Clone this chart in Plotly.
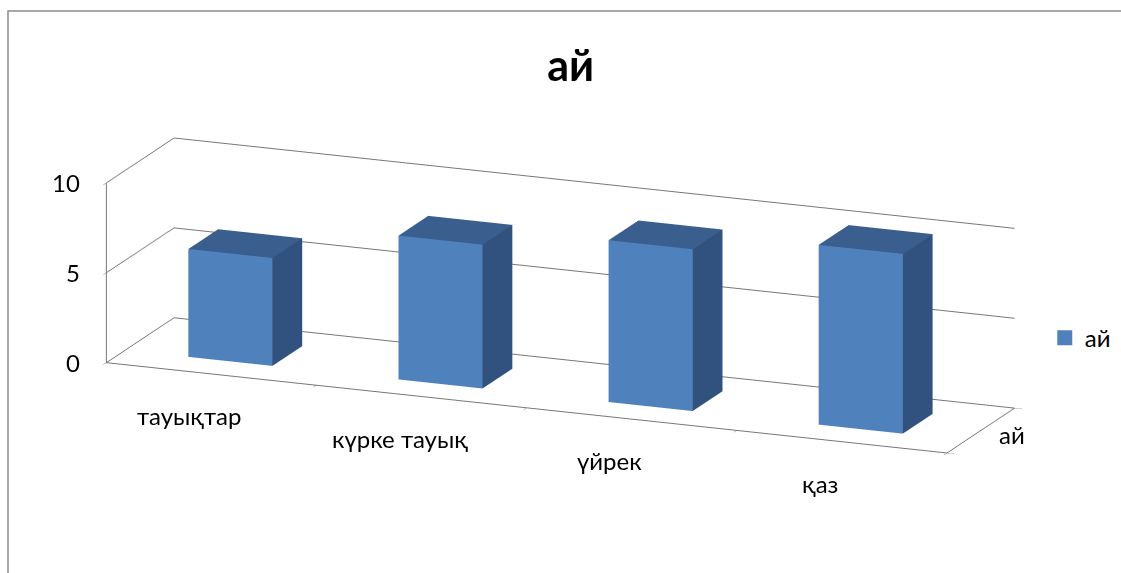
import plotly.graph_objects as go

# ---- data ----
categories = ["тауықтар", "күрке тауық", "үйрек", "қаз"]
values = [6, 8, 9, 10]
series_name = "ай"
value_ticks = [0, 5, 10]
title_text = "ай"

# ---- style ----
FRONT = "#4F81BD"
SIDE = "#31527E"
TOP = "#3A5F8F"
GRID = "#777777"
FONT = "Lato"
FS = 24
bar_half = 0.2
depth_half = 0.22

n = len(categories)
x_lo, x_hi = -0.5, n - 0.5
y_lo, y_hi = -0.5, 0.5

fig = go.Figure()

for idx, v in enumerate(values):
    x0, x1 = idx - bar_half, idx + bar_half
    y0, y1 = -depth_half, depth_half
    xs = [x0, x1, x1, x0, x0, x1, x1, x0]
    ys = [y0, y0, y1, y1, y0, y0, y1, y1]
    zs = [0, 0, 0, 0, v, v, v, v]
    tri = [
        (0, 1, 5, FRONT), (0, 5, 4, FRONT),   # front
        (1, 2, 6, SIDE), (1, 6, 5, SIDE),     # right
        (4, 5, 6, TOP), (4, 6, 7, TOP),       # top
        (0, 3, 7, SIDE), (0, 7, 4, SIDE),     # left
        (3, 2, 6, FRONT), (3, 6, 7, FRONT),   # back
        (0, 1, 2, FRONT), (0, 2, 3, FRONT),   # bottom
    ]
    fig.add_trace(go.Mesh3d(
        x=xs, y=ys, z=zs,
        i=[t[0] for t in tri], j=[t[1] for t in tri], k=[t[2] for t in tri],
        facecolor=[t[3] for t in tri],
        flatshading=True,
        lighting=dict(ambient=1.0, diffuse=0.0, specular=0.0, fresnel=0.0, roughness=1.0),
        hoverinfo="skip", showlegend=False,
    ))

# legend entry
fig.add_trace(go.Scatter(
    x=[None], y=[None], mode="markers", name=series_name,
    marker=dict(symbol="square", size=15, color=FRONT),
))

axis_common = dict(
    showbackground=False, showspikes=False, zeroline=False,
    linecolor=GRID, linewidth=2, showline=True,
    ticks="outside", tickcolor=GRID, ticklen=8,
    showticklabels=False,
    title=dict(text=""),
)

annots = []
for idx, c in enumerate(categories):
    annots.append(dict(x=idx, y=y_lo, z=0, text=c, showarrow=False,
                       yshift=-42, xshift=-22, font=dict(family=FONT, size=FS, color="black")))
for t in value_ticks:
    annots.append(dict(x=x_lo, y=y_lo, z=t, text=str(t), showarrow=False,
                       xanchor="right", xshift=-24, font=dict(family=FONT, size=FS, color="black")))
annots.append(dict(x=x_hi, y=0, z=0, text=series_name, showarrow=False,
                   xanchor="left", xshift=16, yshift=-4, font=dict(family=FONT, size=FS, color="black")))

fig.update_layout(
    width=1121, height=573,
    margin=dict(l=0, r=0, t=0, b=0),
    paper_bgcolor="white", plot_bgcolor="white",
    font=dict(family=FONT, color="#000000"),
    title=dict(text="<b>" + title_text + "</b>", x=0.509, xanchor="center",
               y=0.885, yanchor="middle", font=dict(family=FONT, size=43)),
    xaxis=dict(visible=False), yaxis=dict(visible=False),
    showlegend=True,
    legend=dict(x=0.932, y=0.41, xanchor="left", yanchor="middle",
                font=dict(family=FONT, size=FS), itemwidth=30),
    scene=dict(
        domain=dict(x=[0.0, 1.0], y=[0.02, 0.95]),
        xaxis=dict(axis_common, range=[x_lo, x_hi],
                   tickvals=[k - 0.5 for k in range(n + 1)], showgrid=False),
        yaxis=dict(axis_common, range=[y_lo, y_hi], tickvals=[y_lo, y_hi], showgrid=False),
        zaxis=dict(axis_common, range=[0, 10], tickvals=value_ticks,
                   showgrid=True, gridcolor=GRID, gridwidth=2),
        aspectmode="manual",
        aspectratio=dict(x=3.4, y=0.68, z=0.70),
        camera=dict(eye=dict(x=0.93, y=-2.31, z=0.69), center=dict(x=0, y=0, z=0),
                    up=dict(x=0, y=0, z=1),
                    projection=dict(type="orthographic")),
        annotations=annots,
    ),
    shapes=[dict(type="rect", xref="paper", yref="paper",
                 x0=8 / 1121, x1=1.01, y0=-0.01, y1=1 - 11 / 573,
                 line=dict(color="#8C8C8C", width=1.5))],
)

fig.write_html("out.html")
